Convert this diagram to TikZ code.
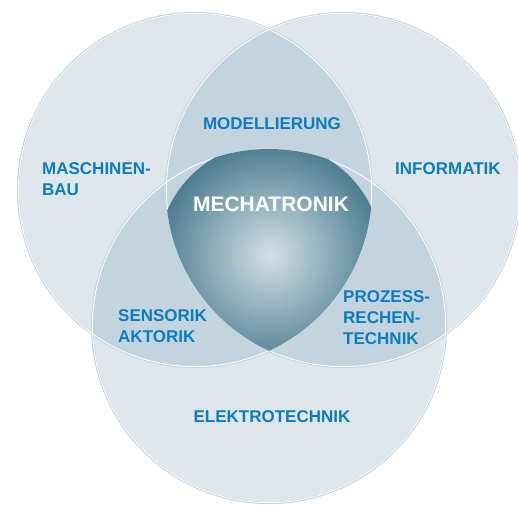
\documentclass[tikz,border=0pt]{standalone}
\usepackage{fontspec}
\setmainfont{Liberation Sans}
\definecolor{ringfill}{HTML}{DFE7EC}
\definecolor{pairfill}{HTML}{C4D4DE}
\definecolor{ringline}{HTML}{C4D6E1}
\definecolor{coreinner}{HTML}{D3E0E7}
\definecolor{coreouter}{HTML}{4C7D91}
\definecolor{fieldblue}{HTML}{0B7CC3}

\begin{document}
\begin{tikzpicture}[x=1pt,y=-1pt,
		field/.style={text=fieldblue,font=\fontsize{17}{21}\selectfont\bfseries,inner sep=0pt},
		core/.style={text=white,font=\fontsize{21}{25}\selectfont\bfseries,inner sep=0pt}]
		\useasboundingbox (0,0) rectangle (518,504);
		% circle centres
		\coordinate (mb) at (195,190);
		\coordinate (inf) at (343,190);
		\coordinate (et) at (269,326);
		\foreach \c in {mb,inf,et} \fill[ringfill] (\c) circle (177pt);
		% overlaps of two
		\foreach \a/\b in {mb/inf,mb/et,inf/et}{
			\begin{scope}
				\clip (\a) circle (177pt);
				\fill[pairfill] (\b) circle (177pt);
			\end{scope}
		}
		\foreach \c in {mb,inf,et} \draw[ringline,line width=2.2pt] (\c) circle (177pt);
		\foreach \c in {mb,inf,et} \draw[white,line width=0.8pt] (\c) circle (176.6pt);
		% core of all three
		\begin{scope}
			\clip (mb) circle (177pt);
			\clip (inf) circle (177pt);
			\clip (et) circle (177pt);
			\shade[inner color=coreinner,outer color=coreouter] (270,255) circle (112pt);
		\end{scope}
		\node[field,anchor=west,align=left] (maschinenbau) at (42,179.5) {MASCHINEN-\\BAU};
		\node[field,anchor=west] (informatik) at (395,169) {INFORMATIK};
		\node[field] (modellierung) at (272,124) {MODELLIERUNG};
		\node[core] (mechatronik) at (271,204) {MECHATRONIK};
		\node[field,anchor=west,align=left] (sensorik) at (118,326.5) {SENSORIK\\AKTORIK};
		\node[field,anchor=west,align=left] (prozess) at (343,318) {PROZESS-\\RECHEN-\\TECHNIK};
		\node[field] (elektrotechnik) at (272,417) {ELEKTROTECHNIK};
	\end{tikzpicture}
\end{document}
